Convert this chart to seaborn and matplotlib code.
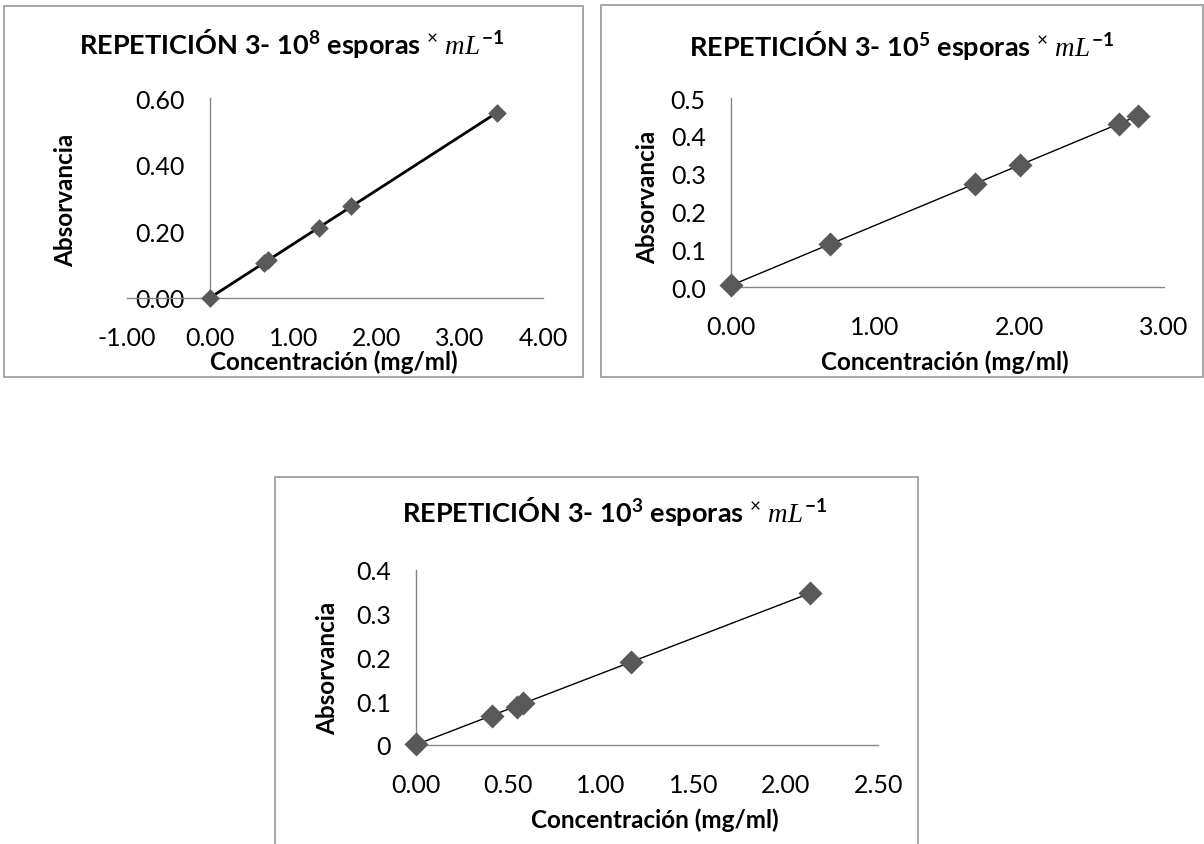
import numpy as np
import pandas as pd
import matplotlib
matplotlib.use("Agg")
import matplotlib.pyplot as plt
from matplotlib.patches import Rectangle
from matplotlib.ticker import FixedLocator, FixedFormatter
import seaborn as sns

# ---------------- data ----------------
conc_1e8 = [0.00, 0.65, 0.70, 1.31, 1.69, 3.45]
abs_1e8 = [0.000, 0.105, 0.115, 0.211, 0.275, 0.556]

conc_1e5 = [0.00, 0.69, 1.69, 2.00, 2.69, 2.82]
abs_1e5 = [0.004, 0.113, 0.273, 0.324, 0.431, 0.453]

conc_1e3 = [0.00, 0.41, 0.545, 0.577, 1.163, 2.128]
abs_1e3 = [0.002, 0.067, 0.086, 0.096, 0.190, 0.346]

titles = ["REPETICIÓN 3- 10$^{\\mathbf{8}}$ esporas $^{\\times}$ $mL^{\\mathbf{-1}}$",
          "REPETICIÓN 3- 10$^{\\mathbf{5}}$ esporas $^{\\times}$ $mL^{\\mathbf{-1}}$",
          "REPETICIÓN 3- 10$^{\\mathbf{3}}$ esporas $^{\\times}$ $mL^{\\mathbf{-1}}$"]
xlabel = "Concentración (mg/ml)"
ylabel = "Absorvancia"

xticks_1 = [-1, 0, 1, 2, 3, 4]
xtlabels_1 = ["-1.00", "0.00", "1.00", "2.00", "3.00", "4.00"]
yticks_1 = [0.0, 0.2, 0.4, 0.6]
ytlabels_1 = ["0.00", "0.20", "0.40", "0.60"]

xticks_2 = [0, 1, 2, 3]
xtlabels_2 = ["0.00", "1.00", "2.00", "3.00"]
yticks_2 = [0.0, 0.1, 0.2, 0.3, 0.4, 0.5]
ytlabels_2 = ["0.0", "0.1", "0.2", "0.3", "0.4", "0.5"]

xticks_3 = [0, 0.5, 1.0, 1.5, 2.0, 2.5]
xtlabels_3 = ["0.00", "0.50", "1.00", "1.50", "2.00", "2.50"]
yticks_3 = [0.0, 0.1, 0.2, 0.3, 0.4]
ytlabels_3 = ["0", "0.1", "0.2", "0.3", "0.4"]

# ---------------- style ----------------
sns.set_theme(style="white")
plt.rcParams['font.family'] = ['Lato', 'DejaVu Sans']
plt.rcParams['mathtext.fontset'] = 'custom'
plt.rcParams['mathtext.rm'] = 'Lato'
plt.rcParams['mathtext.bf'] = 'Lato:bold'
plt.rcParams['mathtext.it'] = 'Liberation Serif:italic'

W, H = 1204, 845
fig = plt.figure(figsize=(W / 100, H / 100), dpi=100)
fig.patch.set_facecolor("white")

AXC = "#868686"
MK = "#595959"


def px_rect(x0, y0, x1, y1):
    return [x0 / W, 1 - y1 / H, (x1 - x0) / W, (y1 - y0) / H]


# panel frames
for (x0, y0, x1, y1) in [(4, 7, 583, 378), (601, 6, 1203, 378), (275, 478, 918, 900)]:
    fig.patches.append(Rectangle((x0 / W, 1 - y1 / H), (x1 - x0) / W, (y1 - y0) / H,
                                 transform=fig.transFigure, fill=False,
                                 edgecolor="#a0a0a0", lw=1.3, zorder=0))


def panel(rect, xs, ys, xlim, ylim, xt, xtl, yt, ytl, lw, ms):
    ax = fig.add_axes(rect)
    ax.set_facecolor("none")
    df = pd.DataFrame({"x": xs, "y": ys})
    sns.regplot(data=df, x="x", y="y", ax=ax, ci=None, scatter=False,
                line_kws=dict(color="black", lw=lw, zorder=2))
    sns.scatterplot(data=df, x="x", y="y", ax=ax, marker="D", s=ms,
                    color=MK, edgecolor=MK, linewidth=0, zorder=3, clip_on=False)
    ax.set_xlim(*xlim)
    ax.set_ylim(*ylim)
    for s in ["top", "right"]:
        ax.spines[s].set_visible(False)
    ax.spines["left"].set_position(("data", 0))
    for s in ["left", "bottom"]:
        ax.spines[s].set_color(AXC)
        ax.spines[s].set_linewidth(1.0)
    ax.xaxis.set_major_locator(FixedLocator(xt))
    ax.xaxis.set_major_formatter(FixedFormatter(xtl))
    ax.yaxis.set_major_locator(FixedLocator(yt))
    ax.yaxis.set_major_formatter(FixedFormatter(ytl))
    ax.tick_params(axis="both", which="major", direction="out", length=5,
                   width=1.0, color=AXC, labelsize=18, labelcolor="black")
    ax.tick_params(axis="x", pad=15)
    ax.tick_params(axis="y", pad=13)
    ax.set_xlabel("")
    ax.set_ylabel("")
    ax.grid(False)
    return ax


ax1 = panel(px_rect(126.8, 99, 543, 299), conc_1e8, abs_1e8, (-1, 4), (0, 0.6),
            xticks_1, xtlabels_1, yticks_1, ytlabels_1, 2.0, 90)
ax2 = panel(px_rect(730.7, 99, 1164, 288), conc_1e5, abs_1e5, (0, 3), (0, 0.5),
            xticks_2, xtlabels_2, yticks_2, ytlabels_2, 1.0, 150)
ax3 = panel(px_rect(416, 570.7, 878.3, 746), conc_1e3, abs_1e3, (0, 2.5), (0, 0.4),
            xticks_3, xtlabels_3, yticks_3, ytlabels_3, 1.0, 150)

# titles and axis labels (figure pixel positions)
tkw = dict(fontsize=19.5, fontweight="bold", ha="center", va="center", color="black")
fig.text(292 / W, 1 - 44 / H, titles[0], **tkw)
fig.text(902 / W, 1 - 45 / H, titles[1], **tkw)
fig.text(615 / W, 1 - 512 / H, titles[2], **tkw)

lkw = dict(fontsize=17.5, fontweight="bold", ha="center", va="center", color="black")
fig.text(334 / W, 1 - 362 / H, xlabel, **lkw)
fig.text(945 / W, 1 - 362 / H, xlabel, **lkw)
fig.text(655 / W, 1 - 820 / H, xlabel, **lkw)
fig.text(66 / W, 1 - 200 / H, ylabel, rotation=90, **lkw)
fig.text(648 / W, 1 - 197 / H, ylabel, rotation=90, **lkw)
fig.text(328 / W, 1 - 668 / H, ylabel, rotation=90, **lkw)

fig.savefig("out.png", dpi=100, facecolor="white")
